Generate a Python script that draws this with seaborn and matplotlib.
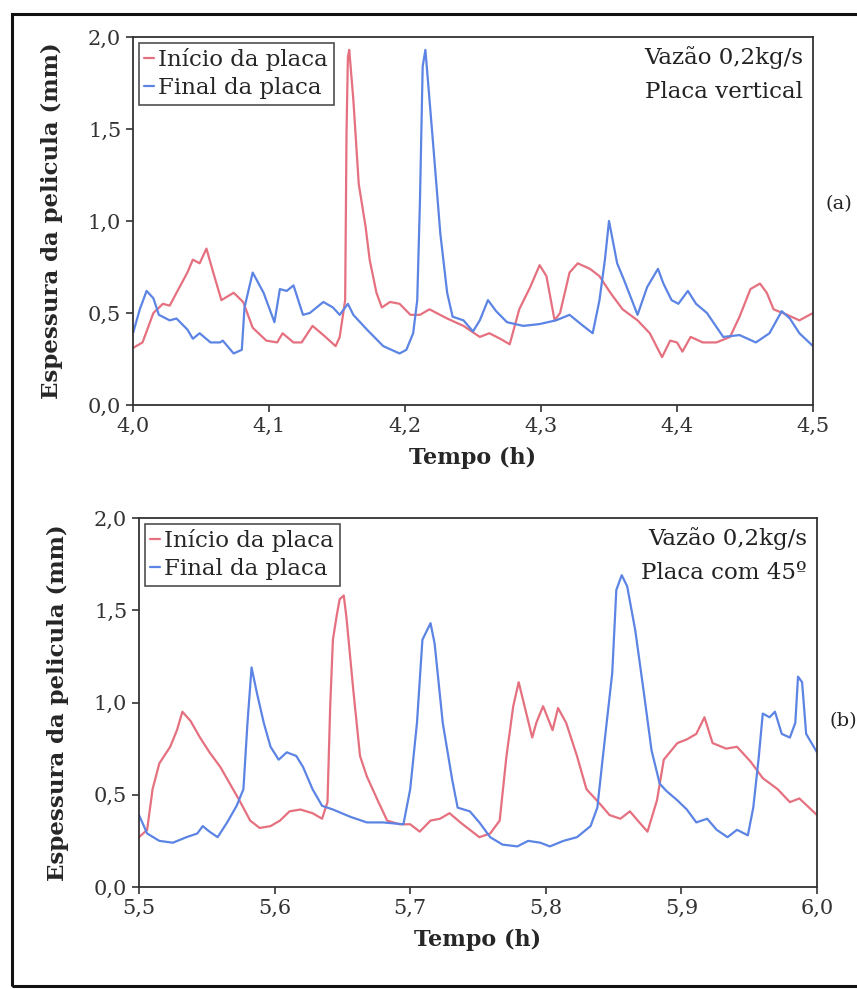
import pandas as pd
import matplotlib.pyplot as plt
import seaborn as sns
from matplotlib.patches import Rectangle
from matplotlib.ticker import FuncFormatter

# Panel (a): placa vertical, 4.0-4.5 h
a_inicio_t = [4.000, 4.007, 4.015, 4.022, 4.027, 4.032, 4.040, 4.044, 4.049, 4.054,
              4.059, 4.065, 4.074, 4.081, 4.088, 4.098, 4.106, 4.110, 4.118, 4.124,
              4.132, 4.140, 4.149, 4.152, 4.156, 4.157, 4.158, 4.159, 4.162, 4.166,
              4.171, 4.174, 4.179, 4.183, 4.189, 4.196, 4.204, 4.211, 4.218, 4.231,
              4.243, 4.255, 4.262, 4.270, 4.277, 4.284, 4.292, 4.299, 4.304, 4.310,
              4.314, 4.321, 4.327, 4.336, 4.343, 4.351, 4.360, 4.371, 4.380, 4.389,
              4.395, 4.400, 4.404, 4.410, 4.419, 4.429, 4.439, 4.446, 4.454, 4.461,
              4.466, 4.471, 4.481, 4.490, 4.500]
a_inicio_v = [0.31, 0.34, 0.50, 0.55, 0.54, 0.61, 0.72, 0.79, 0.77, 0.85,
              0.72, 0.57, 0.61, 0.56, 0.42, 0.35, 0.34, 0.39, 0.34, 0.34,
              0.43, 0.38, 0.32, 0.37, 0.57, 1.48, 1.89, 1.93, 1.66, 1.20,
              0.97, 0.79, 0.61, 0.53, 0.56, 0.55, 0.49, 0.49, 0.52, 0.47,
              0.43, 0.37, 0.39, 0.36, 0.33, 0.52, 0.64, 0.76, 0.70, 0.46,
              0.50, 0.72, 0.77, 0.74, 0.70, 0.61, 0.52, 0.46, 0.39, 0.26,
              0.35, 0.34, 0.29, 0.37, 0.34, 0.34, 0.37, 0.48, 0.63, 0.66,
              0.61, 0.52, 0.49, 0.46, 0.50]
a_final_t = [4.000, 4.005, 4.010, 4.015, 4.019, 4.027, 4.032, 4.040, 4.044, 4.049,
             4.057, 4.064, 4.066, 4.074, 4.080, 4.082, 4.088, 4.096, 4.104, 4.108,
             4.113, 4.118, 4.125, 4.130, 4.140, 4.147, 4.152, 4.158, 4.162, 4.172,
             4.184, 4.196, 4.201, 4.206, 4.209, 4.211, 4.213, 4.215, 4.218, 4.221,
             4.226, 4.231, 4.235, 4.243, 4.250, 4.255, 4.261, 4.267, 4.275, 4.287,
             4.299, 4.311, 4.321, 4.331, 4.338, 4.343, 4.347, 4.350, 4.356, 4.361,
             4.371, 4.378, 4.386, 4.390, 4.396, 4.401, 4.408, 4.414, 4.422, 4.434,
             4.446, 4.458, 4.468, 4.477, 4.483, 4.490, 4.500]
a_final_v = [0.39, 0.52, 0.62, 0.58, 0.49, 0.46, 0.47, 0.41, 0.36, 0.39,
             0.34, 0.34, 0.35, 0.28, 0.30, 0.53, 0.72, 0.61, 0.45, 0.63,
             0.62, 0.65, 0.49, 0.50, 0.56, 0.53, 0.49, 0.55, 0.49, 0.41,
             0.32, 0.28, 0.30, 0.39, 0.57, 1.11, 1.84, 1.93, 1.66, 1.39,
             0.93, 0.61, 0.48, 0.46, 0.40, 0.46, 0.57, 0.51, 0.45, 0.43,
             0.44, 0.46, 0.49, 0.43, 0.39, 0.57, 0.79, 1.00, 0.77, 0.68,
             0.49, 0.64, 0.74, 0.66, 0.57, 0.55, 0.62, 0.55, 0.50, 0.37,
             0.38, 0.34, 0.39, 0.51, 0.47, 0.39, 0.32]

# Panel (b): placa com 45 graus, 5.5-6.0 h
b_inicio_t = [5.500, 5.506, 5.510, 5.515, 5.523, 5.528, 5.532, 5.538, 5.545, 5.552,
              5.560, 5.567, 5.574, 5.582, 5.589, 5.597, 5.604, 5.611, 5.619, 5.628,
              5.635, 5.639, 5.641, 5.643, 5.646, 5.648, 5.651, 5.653, 5.658, 5.663,
              5.668, 5.676, 5.683, 5.692, 5.700, 5.707, 5.715, 5.722, 5.729, 5.737,
              5.744, 5.751, 5.759, 5.766, 5.771, 5.776, 5.780, 5.785, 5.790, 5.793,
              5.798, 5.805, 5.809, 5.815, 5.823, 5.830, 5.840, 5.847, 5.855, 5.862,
              5.869, 5.875, 5.882, 5.887, 5.897, 5.904, 5.911, 5.917, 5.923, 5.933,
              5.941, 5.951, 5.960, 5.971, 5.980, 5.987, 6.000]
b_inicio_v = [0.27, 0.31, 0.53, 0.67, 0.76, 0.85, 0.95, 0.90, 0.81, 0.73,
              0.65, 0.56, 0.47, 0.36, 0.32, 0.33, 0.36, 0.41, 0.42, 0.40,
              0.37, 0.46, 0.98, 1.34, 1.48, 1.56, 1.58, 1.46, 1.07, 0.71,
              0.60, 0.47, 0.36, 0.34, 0.34, 0.30, 0.36, 0.37, 0.40, 0.35,
              0.31, 0.27, 0.29, 0.36, 0.71, 0.98, 1.11, 0.96, 0.81, 0.89,
              0.98, 0.85, 0.97, 0.89, 0.71, 0.53, 0.45, 0.39, 0.37, 0.41,
              0.35, 0.30, 0.47, 0.69, 0.78, 0.80, 0.83, 0.92, 0.78, 0.75,
              0.76, 0.68, 0.59, 0.53, 0.46, 0.48, 0.39]
b_final_t = [5.500, 5.506, 5.515, 5.525, 5.535, 5.543, 5.547, 5.552, 5.558, 5.565,
             5.572, 5.577, 5.580, 5.583, 5.587, 5.592, 5.597, 5.603, 5.609, 5.616,
             5.621, 5.628, 5.635, 5.643, 5.656, 5.668, 5.680, 5.695, 5.700, 5.705,
             5.709, 5.715, 5.718, 5.724, 5.731, 5.735, 5.744, 5.751, 5.759, 5.768,
             5.779, 5.787, 5.796, 5.803, 5.813, 5.823, 5.833, 5.838, 5.842, 5.849,
             5.852, 5.856, 5.860, 5.866, 5.872, 5.878, 5.884, 5.889, 5.897, 5.904,
             5.911, 5.919, 5.926, 5.934, 5.941, 5.949, 5.953, 5.957, 5.960, 5.965,
             5.969, 5.974, 5.980, 5.984, 5.986, 5.989, 5.992, 6.000]
b_final_v = [0.39, 0.29, 0.25, 0.24, 0.27, 0.29, 0.33, 0.30, 0.27, 0.35,
             0.44, 0.53, 0.89, 1.19, 1.05, 0.89, 0.76, 0.69, 0.73, 0.71,
             0.65, 0.53, 0.44, 0.42, 0.38, 0.35, 0.35, 0.34, 0.53, 0.89,
             1.34, 1.43, 1.32, 0.89, 0.58, 0.43, 0.41, 0.35, 0.27, 0.23,
             0.22, 0.25, 0.24, 0.22, 0.25, 0.27, 0.33, 0.43, 0.70, 1.16,
             1.61, 1.69, 1.63, 1.39, 1.07, 0.74, 0.56, 0.52, 0.47, 0.42,
             0.35, 0.37, 0.31, 0.27, 0.31, 0.28, 0.43, 0.70, 0.94, 0.92,
             0.95, 0.83, 0.81, 0.89, 1.14, 1.11, 0.83, 0.73]

labels = ["Início da placa", "Final da placa"]
colors = {"Início da placa": "#e5707f", "Final da placa": "#5c84e4"}

panels = [
    {"inicio": (a_inicio_t, a_inicio_v), "final": (a_final_t, a_final_v),
     "xlim": (4.0, 4.5), "xticks": [4.0, 4.1, 4.2, 4.3, 4.4, 4.5],
     "note": "Vazão 0,2kg/s\nPlaca vertical", "tag": "(a)", "tag_y": 0.545,
     "rect": [133/857, 1-405/989, 680/857, 368/989]},
    {"inicio": (b_inicio_t, b_inicio_v), "final": (b_final_t, b_final_v),
     "xlim": (5.5, 6.0), "xticks": [5.5, 5.6, 5.7, 5.8, 5.9, 6.0],
     "note": "Vazão 0,2kg/s\nPlaca com 45º", "tag": "(b)", "tag_y": 0.45,
     "rect": [139/857, 1-887/989, 678/857, 369/989]},
]

sns.set_theme(style="ticks")
plt.rcParams['font.family'] = ['DejaVu Serif', 'DejaVu Sans']

fig = plt.figure(figsize=(8.57, 9.89), dpi=100)
comma = FuncFormatter(lambda v, p: f"{v:.1f}".replace(".", ","))

for p in panels:
    ax = fig.add_axes(p["rect"])
    df = pd.concat([
        pd.DataFrame({"t": p["inicio"][0], "v": p["inicio"][1], "s": labels[0]}),
        pd.DataFrame({"t": p["final"][0], "v": p["final"][1], "s": labels[1]}),
    ])
    sns.lineplot(data=df, x="t", y="v", hue="s", palette=colors, linewidth=1.6,
                 ax=ax, sort=False, estimator=None)
    ax.set_xlim(*p["xlim"])
    ax.set_ylim(0, 2.0)
    ax.set_xticks(p["xticks"])
    ax.set_yticks([0, 0.5, 1.0, 1.5, 2.0])
    ax.xaxis.set_major_formatter(comma)
    ax.yaxis.set_major_formatter(comma)
    ax.tick_params(labelsize=15, length=5, width=1.2, color="#333333", labelcolor="#333333")
    for sp in ax.spines.values():
        sp.set_visible(True)
        sp.set_linewidth(1.3)
        sp.set_color("#333333")
    ax.set_xlabel("Tempo (h)", fontsize=16, fontweight="bold", labelpad=8)
    ax.set_ylabel("Espessura da pelicula (mm)", fontsize=16.5, fontweight="bold", labelpad=18)
    leg = ax.legend(loc="upper left", fontsize=16.5, handlelength=0.4, handletextpad=0.2,
                    borderpad=0.25, labelspacing=0.25, borderaxespad=0.25, frameon=True,
                    fancybox=False, edgecolor="#222222")
    leg.get_frame().set_linewidth(1.2)
    ax.text(0.985, 0.975, p["note"], transform=ax.transAxes, ha="right", va="top",
            fontsize=16.5, color="#222222", linespacing=1.7)
    ax.text(1.018, p["tag_y"], p["tag"], transform=ax.transAxes, ha="left", va="center",
            fontsize=14, color="#222222", clip_on=False)

fig.add_artist(Rectangle((12/857, 1-986/989), 860/857, 972/989, fill=False,
                         lw=2.2, edgecolor="#111111", transform=fig.transFigure,
                         clip_on=False))
fig.savefig("out.png", dpi=100, facecolor="white")
